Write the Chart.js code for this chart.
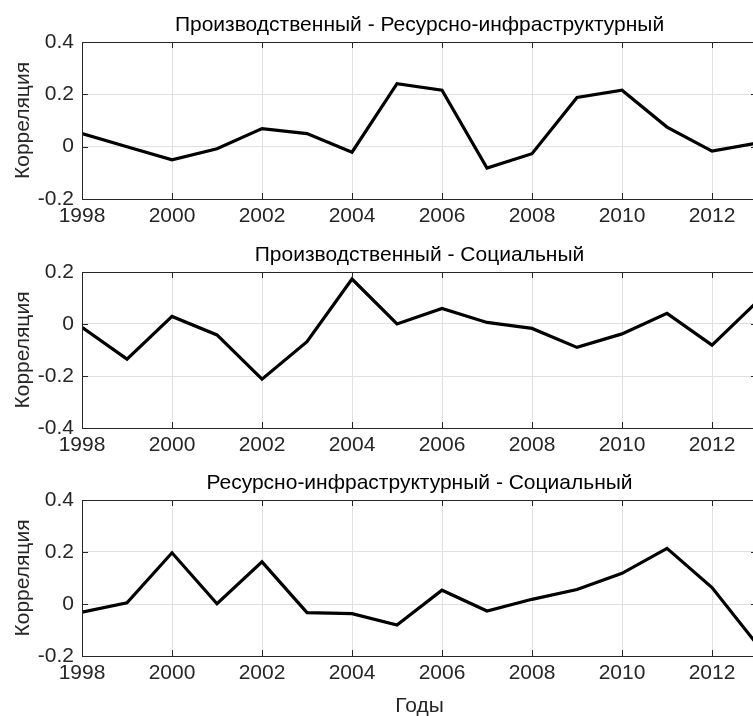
<!DOCTYPE html>
<html><head><meta charset="utf-8">
<script src="https://cdn.jsdelivr.net/npm/chart.js@4"></script>
<style>
html,body{margin:0;padding:0;width:753px;height:716px;overflow:hidden;background:#fff;}
.w{position:absolute;left:0;width:760px;}
canvas{display:block;}
</style></head><body>
<div class="w" id="w1" style="top:0;height:235px"><canvas id="c1"></canvas></div>
<div class="w" id="w2" style="top:235px;height:229px"><canvas id="c2"></canvas></div>
<div class="w" id="w3" style="top:463px;height:253px"><canvas id="c3"></canvas></div>
<script>
const years = [1998,1999,2000,2001,2002,2003,2004,2005,2006,2007,2008,2009,2010,2011,2012,2013];
const prodRes = [0.050,0.000,-0.050,-0.008,0.069,0.050,-0.021,0.241,0.216,-0.082,-0.027,0.188,0.216,0.075,-0.017,0.014];
const prodSoc = [-0.013,-0.135,0.029,-0.042,-0.212,-0.068,0.173,0.000,0.060,0.006,-0.017,-0.090,-0.038,0.041,-0.081,0.085];
const resSoc  = [-0.031,0.005,0.197,0.001,0.162,-0.033,-0.037,-0.081,0.053,-0.027,0.018,0.056,0.118,0.214,0.063,-0.155];
const titles = ['Производственный - Ресурсно-инфраструктурный','Производственный - Социальный','Ресурсно-инфраструктурный - Социальный'];
const yRanges = [[-0.2,0.4],[-0.4,0.2],[-0.2,0.4]];
const yLabel = 'Корреляция';
const xLabel = 'Годы';

const FONT = "'Liberation Sans', Arial, Helvetica, sans-serif";
const AX = '#262626';

const boxPlugin = {
  id:'box',
  afterDatasetsDraw(chart){
    const {ctx, chartArea:a, scales:{x,y}} = chart;
    ctx.save();
    ctx.strokeStyle = AX; ctx.lineWidth = 1;
    ctx.beginPath();
    const L = 6;
    x.ticks.forEach(t=>{const px=Math.round(x.getPixelForValue(t.value))+0.5;
      ctx.moveTo(px,a.bottom); ctx.lineTo(px,a.bottom-L);
      ctx.moveTo(px,a.top); ctx.lineTo(px,a.top+L);});
    y.ticks.forEach(t=>{const py=Math.round(y.getPixelForValue(t.value))+0.5;
      ctx.moveTo(a.left,py); ctx.lineTo(a.left+L,py);
      ctx.moveTo(a.right,py); ctx.lineTo(a.right-L,py);});
    ctx.stroke();
    ctx.strokeRect(Math.round(a.left)+0.5, Math.round(a.top)+0.5, Math.round(a.right-a.left), Math.round(a.bottom-a.top));
    ctx.restore();
  }
};

function make(id, vals, title, yr, titlePad, xH, showX){
  new Chart(document.getElementById(id), {
    type:'line',
    data:{datasets:[{data: years.map((v,i)=>({x:v,y:vals[i]})), borderColor:'#000', borderWidth:3.2, pointRadius:0, tension:0, fill:false}]},
    plugins:[boxPlugin],
    options:{
      responsive:true, maintainAspectRatio:false, animation:false,
      layout:{padding:{left:0,right:3,top:0,bottom:0}},
      plugins:{legend:{display:false}, tooltip:{enabled:false},
        title:{display:true, text:title, fullSize:false, color:'#000', font:{family:FONT,size:21,weight:'normal',lineHeight:1.2}, padding:titlePad}},
      scales:{
        x:{type:'linear', min:1998, max:2013,
          afterFit(s){s.height = xH;},
          grid:{color:'#e0e0e0', drawTicks:false}, border:{display:false},
          ticks:{stepSize:2, includeBounds:false, color:AX, padding:4.4, maxRotation:0, autoSkip:false,
            font:{family:FONT,size:21}, callback:v=>String(v)},
          title:{display:showX, text:xLabel, color:AX, font:{family:FONT,size:21}, padding:{top:0,bottom:-2.5}}},
        y:{min:yr[0], max:yr[1],
          afterFit(s){s.width = 82;},
          grid:{color:'#e0e0e0', drawTicks:false}, border:{display:false},
          ticks:{stepSize:0.2, color:AX, padding:8, font:{family:FONT,size:21},
            callback:v=>{const r=Math.round(v*10)/10; return r===0?'0':r.toFixed(1);}},
          title:{display:true, text:yLabel, color:AX, font:{family:FONT,size:21}, padding:{top:10.4,bottom:0}}}
      }
    }
  });
}
make('c1', prodRes, titles[0], yRanges[0], {top:12.4,bottom:4.4}, 36, false);
make('c2', prodSoc, titles[1], yRanges[1], {top:7.4,bottom:4.4}, 36, false);
make('c3', resSoc, titles[2], yRanges[2], {top:7.4,bottom:4.4}, 60, true);
</script>
</body></html>
